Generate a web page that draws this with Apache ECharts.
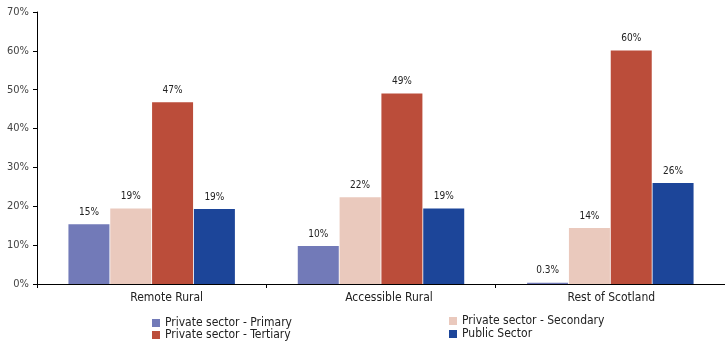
<!DOCTYPE html>
<html>
<head>
<meta charset="utf-8">
<script src="https://cdn.jsdelivr.net/npm/echarts@6/dist/echarts.min.js"></script>
<style>
  html, body { margin: 0; padding: 0; background: #fff; }
  #main { width: 725px; height: 341px; }
</style>
</head>
<body>
<div id="main"></div>
<script>
const categories = ['Remote Rural', 'Accessible Rural', 'Rest of Scotland'];
const seriesNames = ['Private sector - Primary', 'Private sector - Secondary', 'Private sector - Tertiary', 'Public Sector'];
const primary = [15.4, 9.8, 0.3];
const secondary = [19.4, 22.3, 14.4];
const tertiary = [46.8, 49.0, 60.1];
const publicSector = [19.3, 19.4, 26.0];
const yTicks = [0, 10, 20, 30, 40, 50, 60, 70];

const colors = ['#727ab8', '#eac9bd', '#bb4d3a', '#1c4599'];
const font = "'Liberation Sans Narrow', 'DejaVu Sans Condensed', 'Arial Narrow', sans-serif";

function labelFmt(p) {
  const v = p.value;
  return (v < 1 ? v.toFixed(1) : Math.round(v)) + '%';
}

function makeSeries(name, data, i) {
  return {
    name: name,
    type: 'bar',
    data: data,
    barWidth: 41,
    barGap: '2%',
    itemStyle: { color: colors[i] },
    label: {
      show: true,
      position: 'top',
      distance: 7,
      formatter: labelFmt,
      color: '#222',
      fontSize: 10,
      fontFamily: font
    }
  };
}

// one legend per entry so they sit in two columns like the original
const legendPos = [[152, 317], [449, 315], [152, 329], [449, 328]];
const legends = seriesNames.map(function (n, i) {
  return {
    data: [n],
    left: legendPos[i][0], top: legendPos[i][1],
    padding: 0,
    itemWidth: 8, itemHeight: 8,
    icon: 'rect',
    textStyle: { fontSize: 12, color: '#222', fontFamily: font }
  };
});

// the original's category labels sit a little right of centre
const labelShift = [30, 16, 2];
const xData = categories.map(function (c, i) {
  return { value: c, textStyle: { padding: [0, 0, 0, labelShift[i]] } };
});

const chart = echarts.init(document.getElementById('main'));
chart.setOption({
  animation: false,
  textStyle: { fontFamily: font },
  grid: { left: 37, right: 0, top: 12, bottom: 57, containLabel: false },
  legend: legends,
  xAxis: {
    type: 'category',
    data: xData,
    axisLine: { lineStyle: { color: '#000', width: 1 } },
    axisTick: { show: true, alignWithLabel: false, length: 4, lineStyle: { color: '#000' } },
    axisLabel: { color: '#222', fontSize: 12, margin: 8, fontFamily: font }
  },
  yAxis: {
    type: 'value',
    min: yTicks[0],
    max: yTicks[yTicks.length - 1],
    interval: 10,
    axisLine: { show: true, lineStyle: { color: '#000', width: 1 } },
    axisTick: { show: true, length: 4, lineStyle: { color: '#000' } },
    splitLine: { show: false },
    axisLabel: { formatter: '{value}%', color: '#444', fontSize: 11, margin: 8, fontFamily: font }
  },
  series: [
    makeSeries(seriesNames[0], primary, 0),
    makeSeries(seriesNames[1], secondary, 1),
    makeSeries(seriesNames[2], tertiary, 2),
    makeSeries(seriesNames[3], publicSector, 3)
  ]
});
</script>
</body>
</html>
